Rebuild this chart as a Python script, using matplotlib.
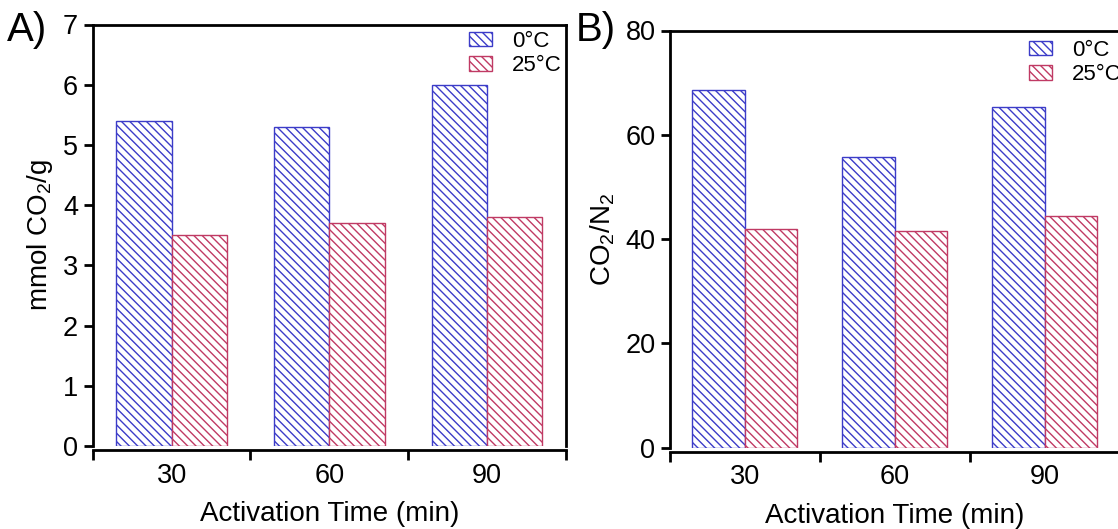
import matplotlib
matplotlib.use("Agg")
import matplotlib.pyplot as plt
import numpy as np

plt.rcParams['font.family'] = ['Liberation Sans', 'DejaVu Sans']
plt.rcParams['mathtext.default'] = 'regular'
plt.rcParams['hatch.linewidth'] = 1.0

categories = ["30", "60", "90"]
series_labels = ["0°C", "25°C"]
uptake_0C = [5.4, 5.3, 6.0]
uptake_25C = [3.5, 3.7, 3.8]
select_0C = [68.6, 55.7, 65.3]
select_25C = [42.0, 41.5, 44.4]
yticks_A = [0, 1, 2, 3, 4, 5, 6, 7]
yticks_B = [0, 20, 40, 60, 80]

blue = '#3c3cc8'
red = '#c03a64'

W, H = 1118, 529
fig = plt.figure(figsize=(W / 100, H / 100), dpi=100)

def px_axes(l, r, t, b):
    return fig.add_axes([l / W, 1 - b / H, (r - l) / W, (b - t) / H])

axA = px_axes(92.7, 566, 24.5, 446)
axB = px_axes(670, 1119.5, 30.5, 447.5)

def draw(ax, v0, v25, yticks, ylabel, panel, panel_x, leg_anchor):
    x = np.arange(len(categories))
    w = 0.35
    ax.bar(x - w / 2, v0, w, facecolor='white', edgecolor=blue,
           hatch='\\\\\\\\', linewidth=1.0, label=series_labels[0])
    ax.bar(x + w / 2, v25, w, facecolor='white', edgecolor=red,
           hatch='\\\\\\\\', linewidth=1.0, label=series_labels[1])
    ax.set_xlim(-0.5, len(categories) - 0.5)
    ax.set_ylim(yticks[0], yticks[-1])
    ax.set_yticks(yticks)
    ax.set_xticks(np.arange(len(categories) + 1) - 0.5)
    ax.set_xticklabels([])
    ax.set_xticks(x, minor=True)
    ax.set_xticklabels(categories, minor=True)
    for s in ax.spines.values():
        s.set_linewidth(2)
    ax.spines['bottom'].set_position(('outward', 3))
    ax.tick_params(axis='y', which='major', direction='out', length=6.5,
                   width=2, labelsize=19.5, pad=4)
    ax.tick_params(axis='x', which='major', direction='out', length=7.5,
                   width=2)
    ax.tick_params(axis='x', which='minor', length=0, labelsize=19.5, pad=9)
    ax.set_ylabel(ylabel, fontsize=20, labelpad=6)
    ax.set_xlabel("Activation Time (min)", fontsize=20, labelpad=9)
    fig.text(panel_x / W, 1 - 30 / H, panel, fontsize=29, ha='left', va='center')
    ax.legend(frameon=False, loc='upper left',
              bbox_to_anchor=(leg_anchor[0] / W, 1 - leg_anchor[1] / H),
              bbox_transform=fig.transFigure, fontsize=16,
              handlelength=1.04, handleheight=0.6, handletextpad=0.9,
              labelspacing=0.15, borderpad=0, borderaxespad=0)

draw(axA, uptake_0C, uptake_25C, yticks_A, "mmol CO$_2$/g", 'A)', 7, (469, 31))
draw(axB, select_0C, select_25C, yticks_B, "CO$_2$/N$_2$", 'B)', 576, (1029, 40))

fig.savefig("out.png", dpi=100)
